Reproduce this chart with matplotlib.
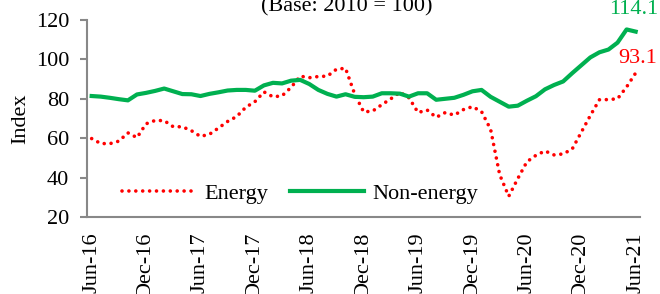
import matplotlib as mpl
mpl.use('Agg')
import matplotlib.pyplot as plt

plt.rcParams['font.family'] = ['Liberation Serif', 'DejaVu Serif']

# monthly index, Jun-16 .. Jun-21
months = ['Jun-16', 'Dec-16', 'Jun-17', 'Dec-17', 'Jun-18', 'Dec-18',
          'Jun-19', 'Dec-19', 'Jun-20', 'Dec-20', 'Jun-21']
energy = [59.8, 57.3, 57.2, 58.5, 62.7, 60.3, 67.3, 69.0, 68.9, 65.8,
          65.8, 63.8, 60.9, 62.0, 65.2, 68.5, 71.0, 75.7, 78.5, 83.5,
          81.0, 81.5, 85.8, 91.5, 90.7, 91.3, 91.5, 95.0, 95.5, 82.5,
          73.3, 73.8, 77.0, 80.0, 83.3, 80.5, 73.0, 74.3, 70.6, 73.0,
          71.7, 74.5, 76.0, 73.5, 64.5, 41.5, 30.5, 39.5, 48.0, 51.3,
          53.5, 51.5, 52.0, 54.5, 63.0, 71.5, 79.5, 79.6, 80.0, 86.0,
          93.1]
non_energy = [81.4, 81.1, 80.5, 79.8, 79.2, 82.2, 83.0, 84.0, 85.2, 83.8,
              82.4, 82.3, 81.4, 82.5, 83.3, 84.2, 84.5, 84.5, 84.1, 86.8,
              88.1, 87.8, 89.2, 89.6, 87.5, 84.5, 82.5, 81.1, 82.3, 81.0,
              80.8, 81.1, 82.8, 82.8, 82.6, 81.1, 82.8, 82.8, 79.5, 80.0,
              80.5, 82.0, 83.8, 84.5, 81.0, 78.5, 76.0, 76.5, 79.0, 81.3,
              84.8, 87.0, 88.8, 93.0, 97.0, 101.0, 103.6, 105.0, 108.5, 115.2,
              114.1]

red = '#FF0000'
green = '#00B050'
x = list(range(len(energy)))
fs = 16

fig = plt.figure(figsize=(6.6, 2.94), dpi=100)
ax = fig.add_axes([0.132, 0.262, 0.838, 0.670])

ax.plot(x, energy, color=red, lw=2.6, linestyle=(0, (0.01, 1.9)),
        dash_capstyle='round', label='Energy')
ax.plot(x, non_energy, color=green, lw=3, label='Non-energy')

# end-point labels
ax.annotate(f'{non_energy[-1]:.1f}', (x[-1], non_energy[-1]), xytext=(-2, 22),
            textcoords='offset pixels', ha='center', va='center',
            color=green, fontsize=fs)
ax.annotate(f'{energy[-1]:.1f}', (x[-1], energy[-1]), xytext=(2, 14),
            textcoords='offset pixels', ha='center', va='center',
            color=red, fontsize=fs)

ax.set_xlim(-0.5, 60.5)
ax.set_ylim(20, 120)
ax.set_yticks(range(20, 121, 20))
ax.set_xticks(range(0, 61, 6))
ax.set_xticklabels(months, rotation=90)
ax.tick_params(axis='x', length=0, pad=11, labelsize=fs)
ax.tick_params(axis='y', length=5, width=1.5, color='#888888', labelsize=fs, pad=8)
ax.set_ylabel('Index', fontsize=fs, labelpad=4)

for s in ['top', 'right']:
    ax.spines[s].set_visible(False)
for s in ['left', 'bottom']:
    ax.spines[s].set_color('#888888')
    ax.spines[s].set_linewidth(1.5)

ax.legend(loc='center', bbox_to_anchor=(0.385, 0.117), ncol=2, frameon=False,
          fontsize=fs, handlelength=3.3, columnspacing=1.0, handletextpad=0.4)

fig.text(0.525, 0.975, '(Base: 2010 = 100)', ha='center', va='center', fontsize=fs)

plt.savefig('out.png', dpi=100)
